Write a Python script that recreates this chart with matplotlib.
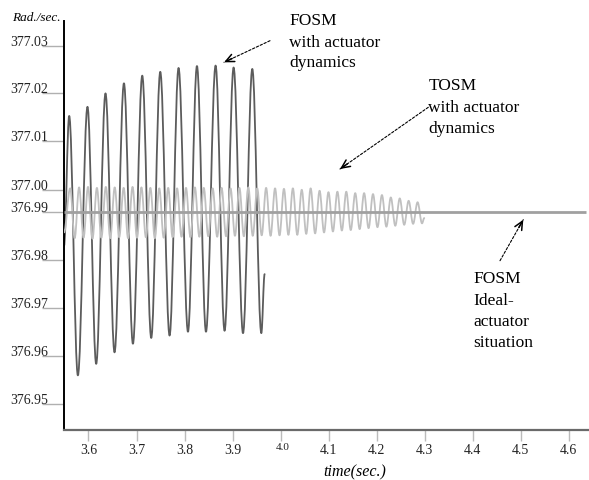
import matplotlib
matplotlib.use("Agg")
import matplotlib.pyplot as plt
from matplotlib.path import Path
from matplotlib.patches import PathPatch
import matplotlib.transforms as mtransforms

# ---------------- data ----------------
# FOSM with actuator dynamics: start, alternating peaks/troughs, end
fosm_start = (3.5490, 376.9830)
fosm_peak_t = [3.5598, 3.5979, 3.6354, 3.6738, 3.7119, 3.7494, 3.7875, 3.8258, 3.8646, 3.9021, 3.9410]
fosm_peak_v = [377.0101, 377.0120, 377.0148, 377.0169, 377.0185, 377.0193, 377.0201, 377.0205, 377.0206, 377.0202, 377.0199]
fosm_trough_t = [3.5779, 3.6160, 3.6542, 3.6925, 3.7306, 3.7688, 3.8071, 3.8446, 3.8833, 3.9217, 3.9598]
fosm_trough_v = [376.9560, 376.9584, 376.9608, 376.9626, 376.9638, 376.9643, 376.9651, 376.9651, 376.9653, 376.9648, 376.9648]
fosm_end = (3.9667, 376.9771)

# TOSM with actuator dynamics
tosm_start = (3.5490, 376.9858)
tosm_peak_t = [3.5619, 3.5804, 3.5990, 3.6175, 3.6361, 3.6546, 3.6732, 3.6917, 3.7102, 3.7288,
               3.7473, 3.7659, 3.7844, 3.8030, 3.8215, 3.8400, 3.8586, 3.8771, 3.8957, 3.9142,
               3.9327, 3.9513, 3.9698, 3.9884, 4.0069, 4.0255, 4.0440, 4.0625, 4.0811, 4.0996,
               4.1182, 4.1367, 4.1553, 4.1738, 4.1923, 4.2109, 4.2294, 4.2480, 4.2665, 4.2851]
tosm_peak_v = [376.9950, 376.9952, 376.9953, 376.9951, 376.9953, 376.9952, 376.9951, 376.9953, 376.9952, 376.9951,
               376.9950, 376.9951, 376.9950, 376.9951, 376.9952, 376.9951, 376.9950, 376.9951, 376.9950, 376.9951,
               376.9952, 376.9950, 376.9951, 376.9950, 376.9949, 376.9950, 376.9947, 376.9950, 376.9945, 376.9942,
               376.9943, 376.9943, 376.9940, 376.9940, 376.9938, 376.9936, 376.9931, 376.9929, 376.9924, 376.9921]
tosm_trough_t = [3.5712, 3.5897, 3.6083, 3.6268, 3.6453, 3.6639, 3.6824, 3.7010, 3.7195, 3.7381,
                 3.7566, 3.7751, 3.7937, 3.8122, 3.8308, 3.8493, 3.8679, 3.8864, 3.9049, 3.9235,
                 3.9420, 3.9606, 3.9791, 3.9977, 4.0162, 4.0347, 4.0533, 4.0718, 4.0904, 4.1089,
                 4.1275, 4.1460, 4.1645, 4.1831, 4.2016, 4.2202, 4.2387, 4.2573, 4.2758, 4.2944]
tosm_trough_v = [376.9846, 376.9847, 376.9845, 376.9847, 376.9846, 376.9848, 376.9846, 376.9847, 376.9848, 376.9846,
                 376.9847, 376.9848, 376.9849, 376.9848, 376.9849, 376.9850, 376.9849, 376.9850, 376.9851, 376.9850,
                 376.9851, 376.9852, 376.9851, 376.9852, 376.9853, 376.9853, 376.9855, 376.9856, 376.9858, 376.9860,
                 376.9862, 376.9863, 376.9865, 376.9867, 376.9869, 376.9870, 376.9872, 376.9874, 376.9876, 376.9877]
tosm_end = (4.2990, 376.9888)

# FOSM ideal actuator: constant
ideal_t = [3.5490, 4.6360]
ideal_v = [376.99, 376.99]

# Axes ticks
xtick_vals = [3.6, 3.7, 3.8, 3.9, 4.0, 4.1, 4.2, 4.3, 4.4, 4.5, 4.6]
xtick_labels = ["3.6", "3.7", "3.8", "3.9", "4.0", "4.1", "4.2", "4.3", "4.4", "4.5", "4.6"]
ytick_pos = [377.0247, 377.0148, 377.0048, 376.9947, 376.99, 376.98, 376.97, 376.96, 376.95]
ytick_labels = ["377.03", "377.02", "377.01", "377.00", "376.99", "376.98", "376.97", "376.96", "376.95"]

# ---------------- figure ----------------
W, H = 589, 481
fig = plt.figure(figsize=(W / 100, H / 100), dpi=100)
fig.patch.set_facecolor("white")
ax = fig.add_axes([64 / W, 50 / H, 525 / W, 409 / H])
ax.set_xlim(3.549, 4.642)
ax.set_ylim(376.9446, 377.0299)

SERIF = ["Liberation Serif", "DejaVu Serif"]


def px(x, y_top):
    return (x / W, 1 - y_top / H)


def interleave(start, pt, pv, tt, tv, end):
    pts = [start]
    for i in range(max(len(pt), len(tt))):
        if i < len(pt):
            pts.append((pt[i], pv[i]))
        if i < len(tt):
            pts.append((tt[i], tv[i]))
    pts.append(end)
    return pts


def smooth_path(points):
    verts = [points[0]]
    codes = [Path.MOVETO]
    k = 0.3642
    for (t0, v0), (t1, v1) in zip(points[:-1], points[1:]):
        dt = t1 - t0
        verts += [(t0 + k * dt, v0), (t1 - k * dt, v1), (t1, v1)]
        codes += [Path.CURVE4] * 3
    return Path(verts, codes)


fosm_pts = interleave(fosm_start, fosm_peak_t, fosm_peak_v, fosm_trough_t, fosm_trough_v, fosm_end)
tosm_pts = interleave(tosm_start, tosm_peak_t, tosm_peak_v, tosm_trough_t, tosm_trough_v, tosm_end)

ax.add_patch(PathPatch(smooth_path(fosm_pts), facecolor="none", edgecolor="#5c5c5c",
                       lw=1.3, zorder=2, capstyle="round", joinstyle="round"))
ax.add_patch(PathPatch(smooth_path(tosm_pts), facecolor="none", edgecolor="#c0c0c0",
                       lw=1.3, zorder=3, capstyle="round", joinstyle="round"))
ax.plot(ideal_t, ideal_v, color="#a0a0a0", lw=2.0, zorder=4, solid_capstyle="butt")

# spines
for s in ("top", "right"):
    ax.spines[s].set_visible(False)
ax.spines["left"].set_color("black")
ax.spines["left"].set_linewidth(1.4)
ax.spines["bottom"].set_color("#6a6a6a")
ax.spines["bottom"].set_linewidth(1.6)

ax.set_xticks(xtick_vals)
ax.set_yticks(ytick_pos)
ax.tick_params(axis="x", direction="out", length=8, width=1.0, color="#bbbbbb", labelbottom=False)
ax.tick_params(axis="y", direction="out", length=16, width=1.0, color="#b0b0b0", labelleft=False)

# x tick labels
xtrans = mtransforms.blended_transform_factory(ax.transData, fig.transFigure)
for v, lab in zip(xtick_vals, xtick_labels):
    if lab == "4.0":
        ax.text(v + 0.004, 1 - 450 / H, lab, transform=xtrans, ha="center", va="baseline",
                fontsize=8, family=SERIF, color="#222222")
    else:
        ax.text(v, 1 - 454 / H, lab, transform=xtrans, ha="center", va="baseline",
                fontsize=10, family=SERIF, color="#222222")

# y tick labels
ytrans = mtransforms.blended_transform_factory(fig.transFigure, ax.transData)
for v, lab in zip(ytick_pos, ytick_labels):
    ax.text(48 / W, v + 0.0002, lab, transform=ytrans, ha="right", va="baseline",
            fontsize=10, family=SERIF, color="#222222")

# axis titles
fig.text(*px(12, 20.7), "Rad./sec.", ha="left", va="baseline", fontsize=9.5,
         style="italic", family=SERIF)
fig.text(*px(355, 476), "time(sec.)", ha="center", va="baseline", fontsize=11.5,
         style="italic", family=SERIF)

# annotations
def label(x, baselines, lines):
    for b, line in zip(baselines, lines):
        fig.text(*px(x, b), line, ha="left", va="baseline", fontsize=12.5, family=SERIF)


label(289.3, [25, 46.7, 67.3], ["FOSM", "with actuator", "dynamics"])
label(428.3, [90, 111.7, 133], ["TOSM", "with actuator", "dynamics"])
label(473.3, [283.3, 305, 325.7, 346.7], ["FOSM", "Ideal-", "actuator", "situation"])


def dashed_arrow(start, tip):
    (x0, y0), (x1, y1) = start, tip
    ax.annotate("", xy=px(x1, y1), xycoords="figure fraction",
                xytext=px(x0, y0), textcoords="figure fraction",
                arrowprops=dict(arrowstyle="-", lw=0.8, color="black",
                                linestyle=(0, (2.2, 1.6)), shrinkA=0, shrinkB=0))
    dx, dy = x1 - x0, y1 - y0
    L = (dx * dx + dy * dy) ** 0.5
    bx, by = x1 - 9 * dx / L, y1 - 9 * dy / L
    ax.annotate("", xy=px(x1, y1), xycoords="figure fraction",
                xytext=px(bx, by), textcoords="figure fraction",
                arrowprops=dict(arrowstyle="->,head_length=0.6,head_width=0.28", lw=1.1,
                                color="black", shrinkA=0, shrinkB=0))


dashed_arrow((270, 41.7), (224, 63.3))
dashed_arrow((428.3, 108.3), (340, 170))
dashed_arrow((500, 261.7), (523.3, 220.7))

fig.savefig("out.png", dpi=100, facecolor="white")
